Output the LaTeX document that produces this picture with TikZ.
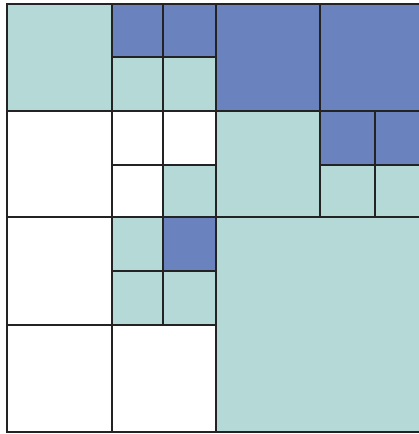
\documentclass[tikz,border=0pt]{standalone}
\definecolor{teal1}{RGB}{180,217,214}
\definecolor{blue1}{RGB}{106,130,190}
\definecolor{line1}{RGB}{35,35,35}
\tikzset{
  cell/.style={draw=line1, line width=2pt},
  tcell/.style={cell, fill=teal1},
  bcell/.style={cell, fill=blue1},
  wcell/.style={cell, fill=white},
}
\begin{document}
\begin{tikzpicture}[x=1pt,y=-1pt]
\useasboundingbox (0,0) rectangle (419,434);
\clip (0,0) rectangle (419,434);
% row 1
\path[tcell] (7,4) rectangle (112,111);
\path[bcell] (112,4) rectangle (163,57);
\path[bcell] (163,4) rectangle (216,57);
\path[tcell] (112,57) rectangle (163,111);
\path[tcell] (163,57) rectangle (216,111);
\path[bcell] (216,4) rectangle (320,111);
\path[bcell] (320,4) rectangle (426,111);
% row 2
\path[wcell] (7,111) rectangle (112,217);
\path[wcell] (112,111) rectangle (163,165);
\path[wcell] (163,111) rectangle (216,165);
\path[wcell] (112,165) rectangle (163,217);
\path[tcell] (163,165) rectangle (216,217);
\path[tcell] (216,111) rectangle (320,217);
\path[bcell] (320,111) rectangle (375,165);
\path[bcell] (375,111) rectangle (426,165);
\path[tcell] (320,165) rectangle (375,217);
\path[tcell] (375,165) rectangle (426,217);
% row 3
\path[wcell] (7,217) rectangle (112,325);
\path[tcell] (112,217) rectangle (163,271);
\path[bcell] (163,217) rectangle (216,271);
\path[tcell] (112,271) rectangle (163,325);
\path[tcell] (163,271) rectangle (216,325);
% big block
\path[tcell] (216,217) rectangle (426,432);
% row 4
\path[wcell] (7,325) rectangle (112,432);
\path[wcell] (112,325) rectangle (216,432);
\end{tikzpicture}
\end{document}
